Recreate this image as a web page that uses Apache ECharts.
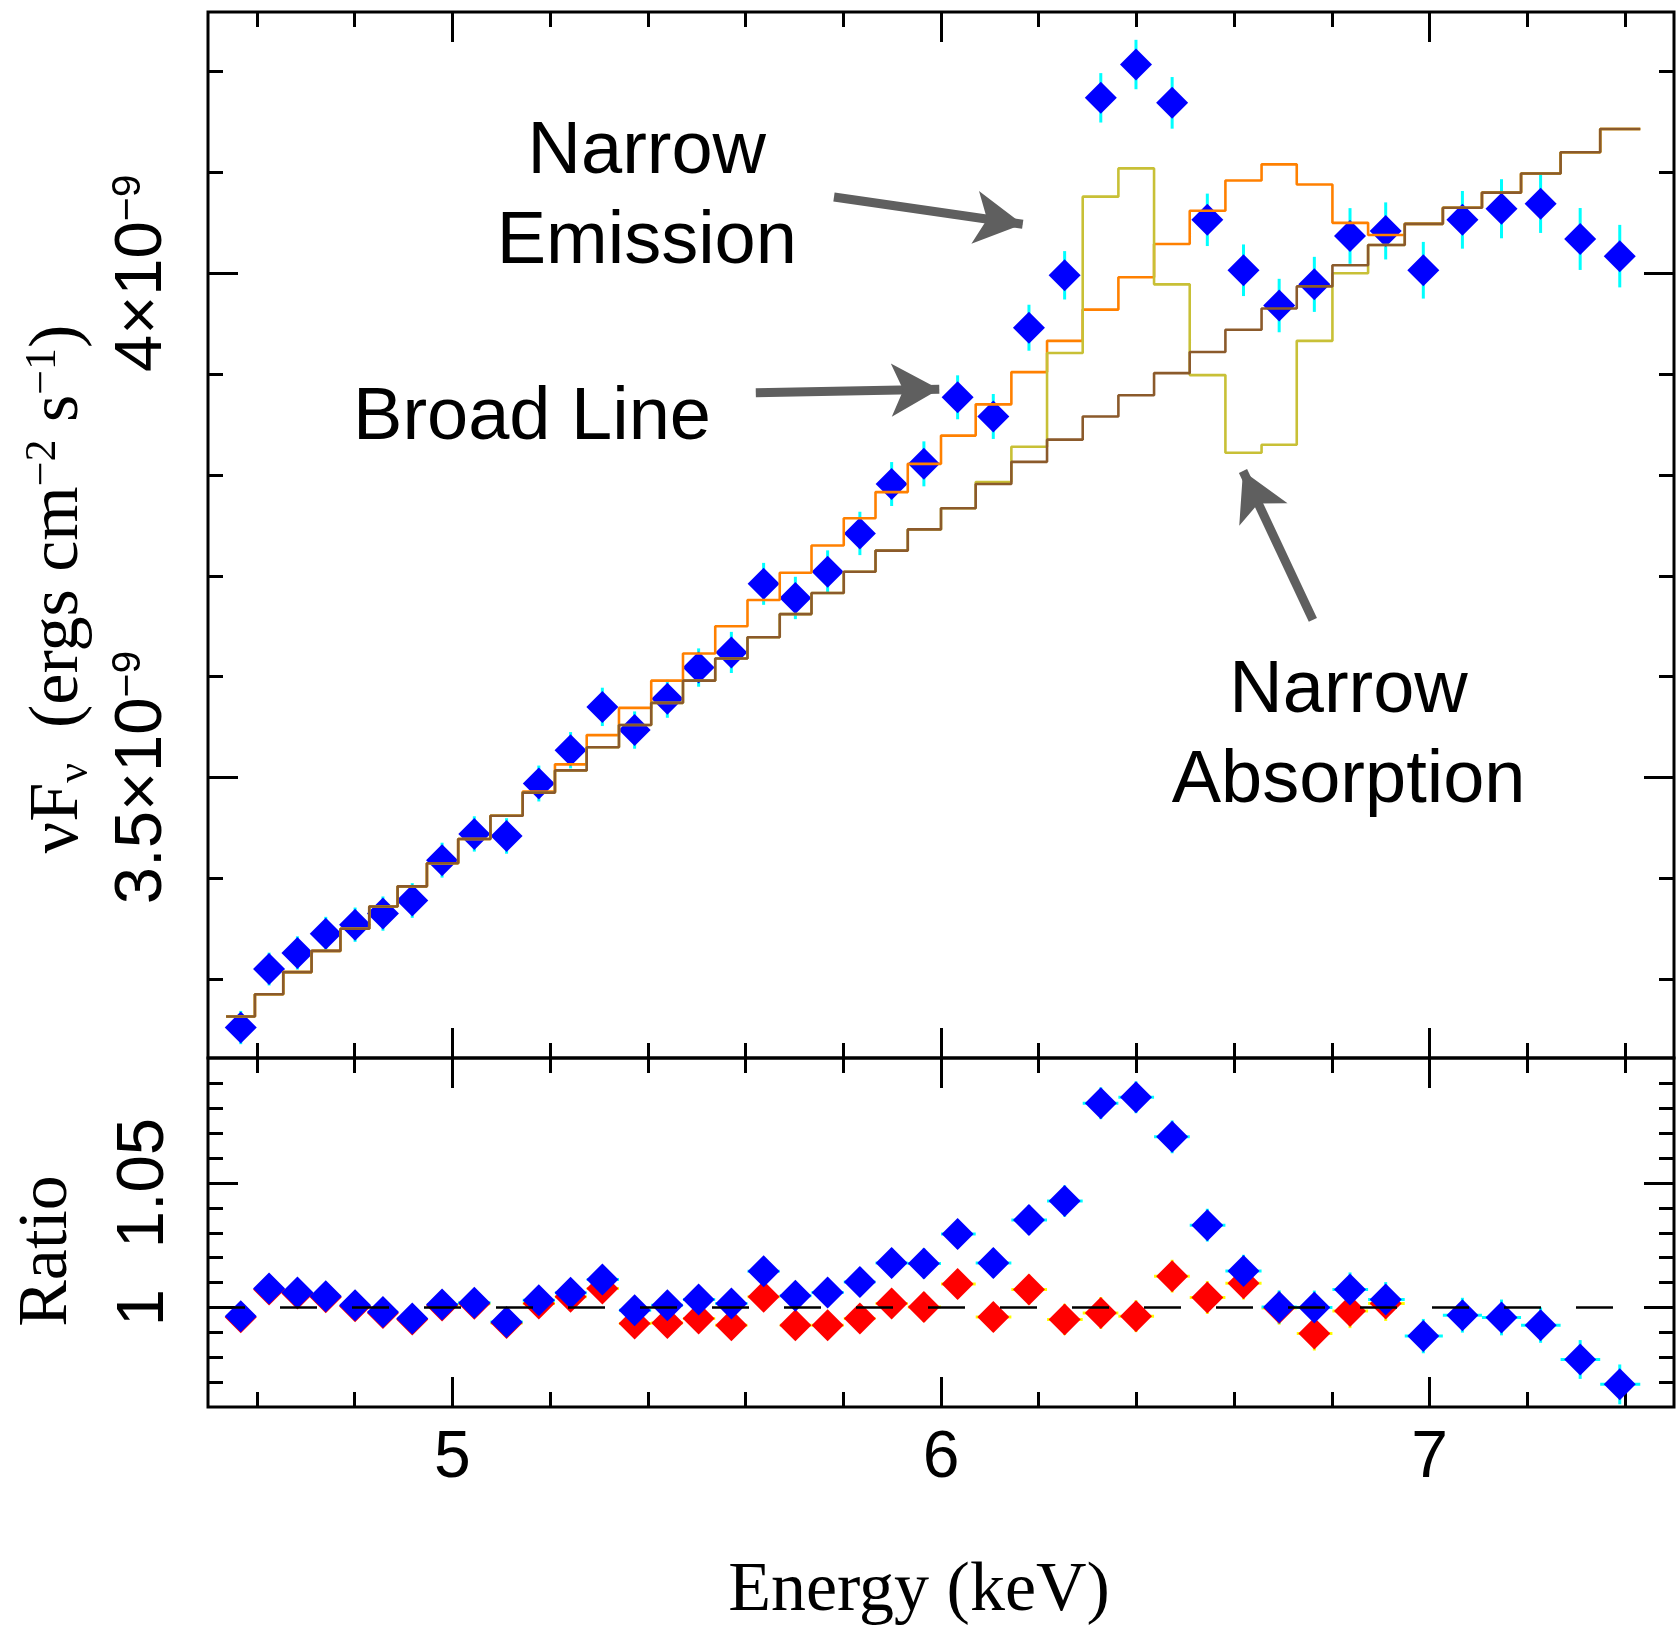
<!DOCTYPE html>
<html><head><meta charset="utf-8">
<script src="https://cdn.jsdelivr.net/npm/echarts@6/dist/echarts.min.js"></script>
<style>html,body{margin:0;padding:0;background:#fff}#c{width:1676px;height:1629px}</style>
</head><body><div id="c"></div>
<script>
// ---------------- DATA ----------------
// Bin centres (keV)
const energy = [4.567,4.625,4.683,4.741,4.801,4.858,4.918,4.979,5.045,5.111,5.177,5.242,5.307,5.373,5.440,5.504,5.571,5.637,5.702,5.768,5.834,5.899,5.965,6.034,6.107,6.180,6.253,6.327,6.399,6.473,6.545,6.619,6.692,6.764,6.837,6.910,6.987,7.067,7.147,7.227,7.308,7.389];
// Bin edges (keV)
const binEdges = [4.537,4.596,4.654,4.712,4.771,4.830,4.888,4.948,5.012,5.078,5.144,5.210,5.275,5.341,5.407,5.472,5.538,5.604,5.670,5.735,5.801,5.866,5.932,6.000,6.071,6.144,6.217,6.290,6.363,6.436,6.509,6.582,6.656,6.728,6.801,6.874,6.949,7.027,7.107,7.187,7.268,7.349,7.431];
// nuFnu data, units of 1e-9 ergs cm^-2 s^-1
const flux = [3.252,3.310,3.326,3.345,3.354,3.365,3.378,3.418,3.444,3.442,3.494,3.527,3.570,3.547,3.578,3.609,3.624,3.692,3.678,3.704,3.742,3.791,3.811,3.877,3.858,3.946,3.998,4.174,4.207,4.169,4.053,4.003,3.968,3.989,4.037,4.042,4.003,4.053,4.064,4.069,4.034,4.017];
const fluxErr = [0.0165,0.0163,0.0165,0.0168,0.017,0.017,0.0172,0.0173,0.0175,0.0176,0.0178,0.018,0.019,0.0185,0.0188,0.019,0.0204,0.0208,0.021,0.0212,0.0215,0.0218,0.0223,0.0218,0.0223,0.0228,0.024,0.0245,0.0245,0.0256,0.026,0.0256,0.0265,0.0273,0.0276,0.0283,0.0281,0.0286,0.0293,0.029,0.0307,0.031];
// Model histograms (per bin), units of 1e-9
const modelContinuum = [3.263,3.285,3.307,3.328,3.350,3.372,3.392,3.415,3.439,3.462,3.485,3.507,3.530,3.552,3.574,3.596,3.618,3.639,3.662,3.683,3.704,3.725,3.746,3.767,3.791,3.813,3.835,3.858,3.879,3.901,3.922,3.944,3.965,3.987,4.008,4.028,4.049,4.065,4.080,4.099,4.120,4.143];
const modelBroad = [3.263,3.285,3.307,3.328,3.350,3.372,3.392,3.415,3.439,3.462,3.486,3.513,3.542,3.569,3.596,3.623,3.650,3.676,3.703,3.730,3.757,3.783,3.811,3.839,3.870,3.902,3.933,3.964,3.996,4.029,4.062,4.092,4.108,4.088,4.050,4.038,4.049,4.065,4.080,4.099,4.120,4.143];
const modelNarrow = [3.263,3.285,3.307,3.328,3.350,3.372,3.392,3.415,3.439,3.462,3.485,3.507,3.530,3.552,3.574,3.596,3.618,3.639,3.662,3.683,3.704,3.725,3.746,3.767,3.793,3.828,3.921,4.076,4.104,3.989,3.899,3.822,3.830,3.933,4.000,4.028,4.049,4.065,4.080,4.099,4.120,4.143];
// Ratio panel
const ratioBlue = [0.9965,1.0076,1.0060,1.0045,1.0009,0.9982,0.9956,1.0012,1.0019,0.9942,1.0029,1.0059,1.0113,0.9989,1.0009,1.0032,1.0016,1.0146,1.0047,1.0060,1.0103,1.0179,1.0177,1.0295,1.0179,1.0352,1.0428,1.0821,1.0845,1.0686,1.0331,1.0147,1.0002,1.0000,1.0072,1.0032,0.9885,0.9969,0.9960,0.9929,0.9791,0.9691];
const ratioBlueErr = [0.0051,0.005,0.005,0.0051,0.0051,0.005,0.0051,0.0051,0.0051,0.0051,0.0051,0.0051,0.0054,0.0052,0.0053,0.0053,0.0056,0.0057,0.0057,0.0058,0.0058,0.0059,0.006,0.0058,0.0059,0.006,0.0063,0.0064,0.0064,0.0066,0.0066,0.0065,0.0067,0.0068,0.0069,0.007,0.0069,0.007,0.0072,0.0071,0.0078,0.008];
const ratioRed = [0.9961,1.0072,1.0056,1.0041,1.0005,0.9978,0.9952,1.0008,1.0015,0.9938,1.0016,1.0043,1.0076,0.9936,0.9938,0.9956,0.9929,1.0043,0.9929,0.9929,0.9956,1.0016,1.0002,1.0094,0.9962,1.0072,0.9952,0.9978,0.9965,1.0126,1.0040,1.0097,0.9998,0.9895,0.9986,1.0016];
const ratioRedErr = [0.0051,0.005,0.005,0.0051,0.0051,0.005,0.0051,0.0051,0.0051,0.0051,0.0051,0.0051,0.0054,0.0052,0.0053,0.0053,0.0056,0.0057,0.0057,0.0058,0.0058,0.0059,0.006,0.0058,0.0059,0.006,0.0063,0.0064,0.0064,0.0066,0.0066,0.0065,0.0067,0.0068,0.0069,0.007];
const unityLine = [[4.5, 1], [7.431, 1]];
// Ticks
const xMajorTicks = [5, 6, 7];
const xMinorTicks = [4.6,4.8,5.2,5.4,5.6,5.8,6.2,6.4,6.6,6.8,7.2,7.4];
const yTopMajorTicks = [3.5, 4];
const yTopMinorTicks = [3.3,3.4,3.6,3.7,3.8,3.9,4.1,4.2];
const yRatioMajorTicks = [1, 1.05];
const yRatioMinorTicks = [0.97,0.98,0.99,1.01,1.02,1.03,1.04,1.06,1.07,1.08,1.09];
// Annotations (data coordinates)
const annotText = ['Narrow\nEmission', 'Broad Line', 'Narrow\nAbsorption'];
const annotE = [5.398, 5.163, 6.834];
const annotF = [4.0755, 3.8561, 3.5405];
const arrowFrom = [[5.781, 4.0756], [5.621, 3.8816], [6.761, 3.6562]];
const arrowTo = [[6.1672, 4.0486], [5.9965, 3.8849], [6.618, 3.8039]];

// ---------------- CHART ----------------
const SANS = 'Liberation Sans, Arial, Helvetica, sans-serif';
const SERIF = 'Liberation Serif, Times New Roman, serif';
const GL = 208, GW = 1466;
const grids = [
  {left: GL, top: 12, width: GW, height: 1046, show: true, borderColor: '#000', borderWidth: 3, backgroundColor: 'transparent'},
  {left: GL, top: 1058, width: GW, height: 349, show: true, borderColor: '#000', borderWidth: 3, backgroundColor: 'transparent'}
];
function xAx(grid, pos, ticks, len, label) {
  return {type: 'value', gridIndex: grid, position: pos, min: 4.5, max: 7.5,
    axisLine: {show: false}, splitLine: {show: false},
    axisTick: {show: true, inside: true, length: len, customValues: ticks, lineStyle: {color: '#000', width: 3}},
    axisLabel: label ? {show: true, customValues: ticks, margin: 19, fontSize: 66, fontFamily: SANS, color: '#000', formatter: v => String(v)} : {show: false}};
}
function yAx(grid, pos, min, max, ticks, len, label) {
  return {type: 'value', gridIndex: grid, position: pos, min: min, max: max,
    axisLine: {show: false}, splitLine: {show: false},
    axisTick: {show: true, inside: true, length: len, customValues: ticks, lineStyle: {color: '#000', width: 3}},
    axisLabel: label || {show: false}};
}
const topLabel = {show: true, customValues: yTopMajorTicks, rotate: 90, margin: 30,
  formatter: v => '{m|' + String(v) + '×10}{s|−9}',
  rich: {m: {fontSize: 67, fontFamily: SANS, color: '#000', lineHeight: 70},
         s: {fontSize: 41, fontFamily: SANS, color: '#000', verticalAlign: 'top'}}};
const ratioLabel = {show: true, customValues: yRatioMajorTicks, rotate: 90, margin: 30,
  formatter: v => String(v), fontSize: 67, fontFamily: SANS, color: '#000'};
const TMIN = 3.2218, TMAX = 4.2591, RMIN = 0.96, RMAX = 1.1003;

const xAxes = [
  xAx(0, 'bottom', xMajorTicks, 30, false), xAx(0, 'bottom', xMinorTicks, 15, false),
  xAx(0, 'top', xMajorTicks, 30, false), xAx(0, 'top', xMinorTicks, 15, false),
  xAx(1, 'bottom', xMajorTicks, 30, true), xAx(1, 'bottom', xMinorTicks, 15, false),
  xAx(1, 'top', xMajorTicks, 30, false), xAx(1, 'top', xMinorTicks, 15, false)
];
const yAxes = [
  yAx(0, 'left', TMIN, TMAX, yTopMajorTicks, 30, topLabel), yAx(0, 'left', TMIN, TMAX, yTopMinorTicks, 15),
  yAx(0, 'right', TMIN, TMAX, yTopMajorTicks, 30), yAx(0, 'right', TMIN, TMAX, yTopMinorTicks, 15),
  yAx(1, 'left', RMIN, RMAX, yRatioMajorTicks, 30, ratioLabel), yAx(1, 'left', RMIN, RMAX, yRatioMinorTicks, 15),
  yAx(1, 'right', RMIN, RMAX, yRatioMajorTicks, 30), yAx(1, 'right', RMIN, RMAX, yRatioMinorTicks, 15)
];

function errRender(color, withX) {
  return function (params, api) {
    const x = api.value(0), y = api.value(1), e = api.value(2);
    const p1 = api.coord([x, y - e]), p2 = api.coord([x, y + e]);
    const ch = [{type: 'line', shape: {x1: p1[0], y1: p1[1], x2: p2[0], y2: p2[1]}, style: {stroke: color, lineWidth: 3}}];
    if (withX) {
      const q1 = api.coord([api.value(3), y]), q2 = api.coord([api.value(4), y]);
      ch.push({type: 'line', shape: {x1: q1[0], y1: q1[1], x2: q2[0], y2: q2[1]}, style: {stroke: color, lineWidth: 3}});
    }
    return {type: 'group', children: ch};
  };
}
function stepData(vals) {
  return binEdges.map((e, i) => [e, vals[Math.min(i, vals.length - 1)]]);
}
function stepSeries(vals, color) {
  return {type: 'line', xAxisIndex: 0, yAxisIndex: 0, step: 'end', data: stepData(vals), symbol: 'none',
    lineStyle: {color: color, width: 2.6}, silent: true};
}
function diamonds(xi, yi, color, data) {
  return {type: 'scatter', xAxisIndex: xi, yAxisIndex: yi, symbol: 'diamond', symbolSize: 32, silent: true,
    itemStyle: {color: color, opacity: 1}, data: data};
}

const series = [
  {type: 'custom', xAxisIndex: 0, yAxisIndex: 0, renderItem: errRender('#00ffff', false), silent: true,
    data: energy.map((e, i) => [e, flux[i], fluxErr[i]])},
  diamonds(0, 0, '#0000ff', energy.map((e, i) => [e, flux[i]])),
  stepSeries(modelBroad, '#ff8000'),
  stepSeries(modelNarrow, '#c8c036'),
  Object.assign(stepSeries(modelContinuum, '#8b5a2b'), {
    markLine: {silent: true, symbol: ['none', 'arrow'], symbolSize: [40, 48], label: {show: false},
      lineStyle: {color: '#5f5f5f', width: 9, type: 'solid', cap: 'butt', opacity: 1},
      itemStyle: {color: '#5f5f5f'}, emphasis: {disabled: true}, animation: false,
      data: arrowFrom.map((f, i) => [{coord: f, symbol: 'none'}, {coord: arrowTo[i], symbol: 'arrow'}])}
  }),
  {type: 'scatter', xAxisIndex: 0, yAxisIndex: 0, symbolSize: 1, itemStyle: {color: 'transparent', opacity: 1}, silent: true,
    data: annotText.map((t, i) => ({value: [annotE[i], annotF[i]], name: t})),
    label: {show: true, position: 'inside', formatter: p => p.name, fontSize: 74, lineHeight: 90,
      fontFamily: SANS, color: '#000', opacity: 1, align: 'center', verticalAlign: 'middle'}},
  // ratio panel
  {type: 'custom', xAxisIndex: 4, yAxisIndex: 4, renderItem: errRender('#ffff00', true), silent: true,
    data: ratioRed.map((r, i) => [energy[i], r, ratioRedErr[i], binEdges[i], binEdges[i + 1]])},
  diamonds(4, 4, '#ff0000', ratioRed.map((r, i) => [energy[i], r])),
  {type: 'custom', xAxisIndex: 4, yAxisIndex: 4, renderItem: errRender('#00ffff', true), silent: true,
    data: ratioBlue.map((r, i) => [energy[i], r, ratioBlueErr[i], binEdges[i], binEdges[i + 1]])},
  diamonds(4, 4, '#0000ff', ratioBlue.map((r, i) => [energy[i], r])),
  {type: 'line', xAxisIndex: 4, yAxisIndex: 4, data: unityLine, symbol: 'none', silent: true,
    lineStyle: {color: '#000', width: 2.5, type: [37, 35]}}
];

const chart = echarts.init(document.getElementById('c'), null, {renderer: 'canvas'});
chart.setOption({
  animation: false,
  backgroundColor: '#fff',
  grid: grids,
  xAxis: xAxes,
  yAxis: yAxes,
  series: series,
  graphic: [
    {type: 'text', x: 59, y: 589, rotation: Math.PI / 2, style: {
      text: '{n|νF}{b|ν}{n|  (ergs cm}{t|−2}{n| s}{t|−1}{n|)}',
      align: 'center', verticalAlign: 'middle', fill: '#000',
      rich: {n: {fontSize: 70, fontFamily: SERIF, lineHeight: 76},
             b: {fontSize: 44, fontFamily: SERIF, verticalAlign: 'bottom'},
             t: {fontSize: 44, fontFamily: SERIF, verticalAlign: 'top'}}}},
    {type: 'text', x: 48, y: 1251, rotation: Math.PI / 2, style: {
      text: 'Ratio', align: 'center', verticalAlign: 'middle', fill: '#000', fontSize: 70, fontFamily: SERIF}},
    {type: 'text', x: 919, y: 1592, style: {
      text: 'Energy (keV)', align: 'center', verticalAlign: 'middle', fill: '#000', fontSize: 70, fontFamily: SERIF}}
  ]
});
</script>
</body></html>
